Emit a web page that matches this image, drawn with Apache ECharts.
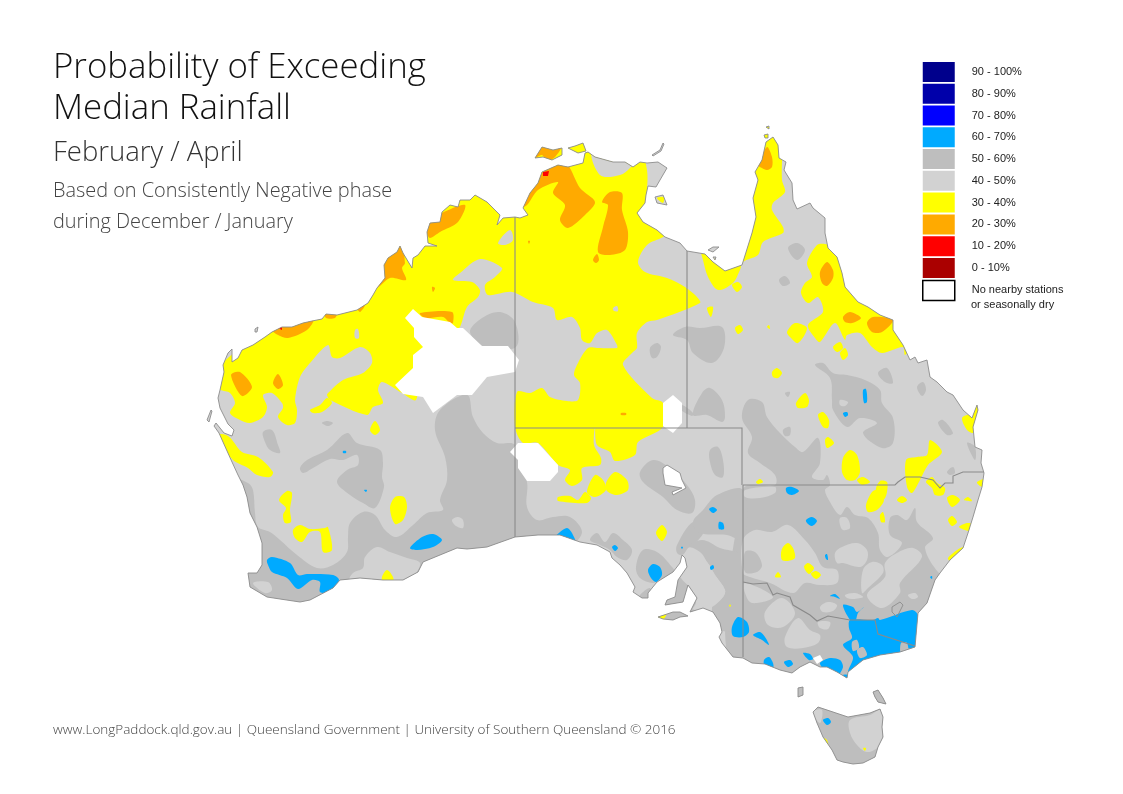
<!DOCTYPE html>
<html>
<head>
<meta charset="utf-8">
<style>html,body{margin:0;padding:0;background:#fff}#chart{width:1123px;height:794px}</style>
<script src="https://cdn.jsdelivr.net/npm/echarts@6/dist/echarts.min.js"></script>
</head>
<body>
<div id="chart"></div>
<script>
// map outlines and rainfall bands in map units (0-1123 / 0-794)
const mainland = [[515,217],[520,218],[528,215],[523,208],[530,193],[538,183],[542,172],[558,165],[568,167],[583,163],[585,153],[588,152],[595,157],[613,162],[625,162],[633,167],[640,162],[647,163],[658,162],[667,168],[660,180],[656,187],[648,186],[646,195],[645,203],[637,213],[643,222],[657,230],[665,237],[680,243],[687,251],[705,254],[713,262],[725,271],[742,265],[752,233],[756,217],[753,198],[758,180],[755,172],[762,160],[766,142],[773,137],[778,145],[779,158],[786,162],[784,170],[792,183],[793,200],[797,209],[810,203],[813,208],[825,218],[825,233],[828,248],[837,257],[842,273],[845,287],[858,302],[868,307],[880,315],[893,320],[893,330],[903,345],[910,360],[915,357],[918,363],[927,360],[930,377],[937,382],[947,392],[953,395],[963,410],[972,418],[977,405],[978,410],[973,427],[975,447],[982,450],[981,463],[984,473],[982,487],[978,500],[973,517],[968,533],[963,548],[950,560],[940,573],[935,580],[927,603],[918,613],[915,647],[900,652],[880,655],[863,660],[848,672],[847,678],[842,675],[837,672],[827,667],[820,667],[810,662],[800,667],[792,673],[780,670],[765,664],[752,663],[743,658],[733,657],[722,643],[719,637],[722,632],[720,623],[713,612],[703,608],[690,612],[697,598],[688,585],[683,602],[665,605],[667,600],[675,597],[678,580],[687,567],[685,558],[682,555],[680,563],[673,572],[657,582],[648,593],[648,598],[642,598],[633,592],[635,587],[627,573],[620,565],[612,558],[610,552],[597,545],[580,542],[560,535],[538,535],[515,537],[487,547],[467,549],[457,548],[440,555],[423,562],[418,572],[403,580],[383,580],[360,578],[340,580],[333,588],[310,600],[300,602],[280,599],[267,597],[250,587],[248,573],[257,573],[262,565],[262,543],[257,527],[250,513],[247,497],[243,485],[238,475],[232,462],[223,442],[219,433],[214,426],[216,423],[220,428],[224,433],[232,436],[234,430],[228,424],[224,416],[220,408],[218,398],[220,390],[224,372],[223,365],[228,353],[232,349],[232,362],[238,358],[242,350],[253,345],[265,337],[272,332],[282,327],[292,327],[303,323],[312,321],[322,319],[326,314],[337,315],[357,310],[368,303],[373,295],[377,288],[385,278],[384,265],[388,258],[397,252],[400,246],[403,253],[412,268],[413,258],[418,255],[425,246],[437,246],[428,243],[427,232],[430,223],[440,222],[442,212],[450,205],[458,207],[460,200],[470,200],[475,195],[487,202],[500,215],[497,225],[503,218]];
const tasmania = [[813,712],[818,707],[827,710],[848,717],[870,713],[880,709],[883,717],[882,727],[883,737],[878,747],[875,757],[863,763],[853,764],[843,762],[837,760],[832,750],[823,737],[817,723]];
const islands = [
  [[798,688],[803,687],[803,695],[798,697]],
  [[873,692],[878,690],[883,698],[886,704],[878,702],[875,697]],
  [[658,617],[673,612],[680,612],[688,616],[680,617],[673,620],[663,619]],
  [[655,197],[663,195],[667,205],[657,203]],
  [[535,158],[542,147],[553,150],[562,148],[562,155],[552,160],[543,157]],
  [[568,148],[575,146],[583,143],[586,151],[578,153]],
  [[708,250],[713,247],[719,247],[713,252]],
  [[713,257],[716,257],[715,260]],
  [[764,135],[768,134],[768,138],[765,138]],
  [[766,127],[769,126],[769,129]],
  [[207,420],[211,410],[212,411],[209,422]],
  [[255,329],[258,327],[257,332],[255,332]],
  [[652,155],[660,150],[663,143],[664,144],[661,151],[653,156]]
];

const band40Patches = [
  [[745,490],[775,487],[775,493],[760,498],[745,497]],
  [[743,540],[755,530],[772,532],[788,525],[805,540],[815,553],[823,567],[837,570],[837,583],[820,585],[805,583],[793,593],[770,583],[750,577],[743,573]],
  [[835,553],[842,547],[857,543],[867,550],[867,560],[860,567],[843,563],[837,563]],
  [[862,593],[863,570],[872,562],[882,565],[883,573],[868,588]],
  [[867,595],[885,577],[885,563],[897,553],[913,548],[922,557],[900,583],[900,593],[882,608]],
  [[845,595],[855,593],[863,597],[853,599],[847,598]],
  [[820,607],[828,602],[837,605],[833,611],[823,612]],
  [[908,595],[915,593],[918,597],[912,599]],
  [[840,518],[847,518],[850,528],[843,530],[840,525]],
  [[818,622],[830,622],[828,629],[820,628]],
  [[765,612],[782,598],[795,613],[783,627],[768,625]],
  [[745,583],[773,597],[752,603],[745,593]],
  [[785,637],[798,618],[810,630],[820,635],[818,643],[803,648],[787,647]],
  [[840,400],[848,402],[845,406],[840,405]],
  [[452,520],[458,517],[463,520],[463,528],[456,526]],
  [[365,557],[377,547],[390,552],[407,558],[420,563],[413,577],[403,582],[350,580],[353,573],[363,568]],
  [[253,583],[268,582],[272,590],[265,593]],
  [[850,720],[870,715],[881,710],[883,733],[878,747],[867,752],[857,745],[850,733]],
  [[813,712],[822,710],[820,723]],
  [[688,548],[700,552],[707,562],[715,575],[725,590],[723,597],[712,607],[700,610],[692,590],[680,575]]
];
const band50 = [
  [[467,395],[440,410],[435,430],[445,457],[447,480],[440,500],[443,510],[427,513],[413,525],[397,537],[385,530],[375,515],[363,512],[350,523],[348,537],[347,552],[333,565],[317,568],[297,555],[280,540],[270,532],[258,527],[255,513],[253,490],[248,483],[235,480],[230,540],[240,610],[300,615],[420,590],[520,550],[570,545],[582,532],[570,517],[553,517],[537,520],[527,507],[527,482],[515,445],[497,443],[483,433],[473,417]],
  [[470,332],[482,318],[500,312],[515,322],[516,347],[485,347]],
  [[300,468],[307,460],[327,450],[347,433],[357,443],[380,450],[383,463],[382,477],[384,487],[375,508],[363,503],[350,495],[337,482],[347,470],[358,465],[357,455],[343,460],[330,459],[313,468],[303,473]],
  [[263,432],[272,430],[278,445],[280,453],[270,450],[265,442]],
  [[322,423],[327,421],[333,423],[328,426]],
  [[673,335],[685,327],[700,328],[722,327],[724,348],[712,363],[693,353],[687,340]],
  [[650,348],[657,343],[661,347],[657,357],[652,358]],
  [[693,415],[702,393],[710,388],[722,400],[725,417],[722,422],[707,415]],
  [[682,405],[693,413],[692,416],[680,409]],
  [[742,418],[748,400],[762,402],[767,417],[780,433],[795,447],[803,452],[818,438],[820,463],[812,477],[823,480],[827,475],[830,485],[825,490],[830,502],[840,515],[847,507],[855,515],[868,518],[878,533],[880,550],[888,557],[902,543],[890,535],[890,518],[897,515],[907,520],[915,508],[917,522],[933,538],[925,548],[938,572],[960,590],[940,690],[743,690],[743,490],[775,485],[775,475],[760,463],[748,453],[752,437]],
  [[815,365],[823,363],[833,373],[847,375],[865,380],[880,390],[882,403],[893,418],[893,443],[882,448],[863,433],[877,423],[860,418],[847,427],[833,410],[832,400],[830,378]],
  [[878,373],[887,368],[893,383],[885,382]],
  [[917,387],[923,382],[926,390],[922,396]],
  [[938,423],[943,420],[953,433],[947,435]],
  [[947,472],[953,467],[955,473],[950,475]],
  [[967,443],[975,447],[975,460]],
  [[785,393],[790,392],[788,397]],
  [[783,430],[790,427],[790,435],[785,436]],
  [[710,450],[718,447],[723,460],[723,477],[715,475],[710,462]],
  [[788,248],[797,243],[805,250],[797,260]],
  [[779,280],[785,276],[790,283],[783,286]],
  [[640,472],[653,460],[670,468],[687,485],[695,500],[692,513],[677,510],[663,497],[643,482]],
  [[590,540],[597,533],[605,542],[613,533],[623,540],[632,550],[627,560],[617,557],[610,550],[600,545]],
  [[636,567],[643,550],[657,552],[672,567],[675,573],[660,580],[653,583],[640,578]],
  [[677,545],[693,522],[703,532],[700,538],[688,550],[682,555],[677,553]],
  [[703,510],[717,495],[743,490],[744,540],[727,535],[700,533],[693,522]],
  [[702,540],[720,548],[743,557],[745,625],[720,630],[712,607],[723,597],[725,590],[715,575],[707,562],[688,548]],
  [[678,580],[688,577],[695,590],[698,598],[688,612],[665,605],[665,600],[675,597]],
  [[810,770],[890,770],[890,700],[810,700]],
  [[640,595],[650,588],[650,600],[640,600]],
  [[795,680],[890,680],[890,710],[795,700]],
  [[655,610],[695,610],[695,622],[655,622]]
];
const band50Patches = [
  [[745,552],[755,552],[762,565],[757,572],[745,572]]
];
const band30 = [
  [[215,388],[220,390],[230,393],[235,403],[230,413],[240,420],[250,423],[263,417],[267,407],[263,395],[272,393],[282,403],[283,408],[278,417],[287,425],[295,423],[297,410],[295,400],[300,377],[310,363],[328,345],[332,357],[340,358],[360,347],[370,353],[372,363],[363,373],[343,380],[328,393],[327,395],[330,400],[367,415],[373,407],[383,403],[378,390],[382,382],[402,393],[416,400],[420,370],[455,330],[460,327],[467,307],[478,297],[480,290],[472,282],[453,280],[460,273],[480,259],[502,268],[495,277],[485,285],[488,295],[512,292],[533,302],[553,308],[557,320],[572,317],[580,328],[582,340],[590,343],[597,333],[607,330],[617,345],[617,348],[597,348],[588,348],[578,363],[574,375],[580,383],[578,400],[567,401],[550,397],[542,388],[530,393],[517,392],[515,427],[523,443],[538,443],[558,465],[570,470],[565,480],[572,486],[582,480],[582,468],[600,465],[601,458],[594,445],[595,428],[597,445],[610,452],[615,461],[635,455],[638,442],[663,427],[663,403],[652,398],[623,365],[632,353],[637,348],[637,333],[647,322],[657,320],[700,303],[697,297],[685,287],[667,278],[645,272],[638,262],[647,245],[663,237],[680,225],[655,225],[645,210],[647,190],[647,170],[640,150],[600,140],[530,135],[500,190],[470,185],[400,230],[350,295],[300,305],[215,370]],
  [[703,260],[708,277],[718,290],[733,283],[740,270],[743,262],[758,255],[763,242],[783,233],[783,227],[772,210],[773,203],[785,192],[782,180],[780,130],[760,130],[745,200],[745,255],[720,262],[700,245]],
  [[732,285],[738,282],[742,287],[737,292]],
  [[807,263],[817,245],[825,244],[845,250],[870,300],[915,340],[905,355],[903,347],[882,353],[872,347],[860,333],[847,335],[845,340],[835,323],[820,342],[815,338],[808,325],[823,312],[818,297],[808,303],[801,293],[805,283],[812,277]],
  [[787,332],[795,323],[807,328],[798,343],[790,337]],
  [[833,347],[840,342],[843,348],[837,352]],
  [[840,353],[845,348],[848,355],[843,360]],
  [[735,328],[740,325],[743,330],[738,334]],
  [[707,308],[713,307],[711,317]],
  [[767,327],[769,325],[770,329]],
  [[772,372],[777,368],[782,373],[778,378],[773,377]],
  [[796,403],[805,393],[809,400],[807,407],[798,408]],
  [[818,415],[823,412],[829,420],[828,428],[823,427]],
  [[825,440],[828,437],[834,443],[827,448]],
  [[843,458],[850,450],[857,455],[860,472],[855,480],[847,480],[842,472]],
  [[857,480],[863,477],[870,482],[862,485]],
  [[756,482],[760,479],[763,482],[758,484]],
  [[906,460],[917,457],[927,455],[930,440],[942,452],[928,465],[920,480],[912,493],[907,487]],
  [[926,482],[932,477],[937,483],[945,488],[943,495],[935,495],[932,488]],
  [[947,498],[953,495],[960,500],[952,507]],
  [[964,500],[968,497],[972,501]],
  [[977,482],[990,478],[990,488],[980,486]],
  [[948,520],[952,516],[957,522],[952,526]],
  [[959,527],[967,523],[972,524],[970,531]],
  [[948,558],[963,547],[975,550],[952,562]],
  [[962,418],[970,415],[975,427],[973,433],[967,430]],
  [[972,423],[976,403],[980,408],[975,425]],
  [[866,505],[872,492],[877,490],[884,500],[877,510],[868,512]],
  [[876,490],[880,481],[887,482],[887,492],[884,499]],
  [[880,515],[883,512],[885,522],[881,522]],
  [[897,500],[902,496],[907,500],[902,503]],
  [[781,553],[783,547],[788,543],[793,548],[795,558],[788,561],[782,560]],
  [[804,567],[808,563],[814,568],[809,574]],
  [[811,574],[816,571],[821,575],[816,579]],
  [[775,577],[778,572],[781,577]],
  [[587,492],[595,475],[603,480],[606,490],[595,497]],
  [[606,483],[615,472],[627,480],[628,490],[617,495],[607,491]],
  [[558,497],[570,496],[578,500],[585,492],[591,498],[587,503],[558,501]],
  [[656,533],[662,525],[667,532],[662,541]],
  [[657,615],[667,612],[662,621]],
  [[729,605],[731,605],[730,607]],
  [[215,435],[228,436],[242,452],[258,457],[273,472],[270,477],[257,475],[248,468],[233,460]],
  [[279,500],[287,491],[292,493],[290,510],[291,522],[285,523],[283,515],[286,508]],
  [[293,530],[300,525],[310,529],[325,528],[328,527],[332,550],[323,552],[320,532],[310,532],[302,542],[295,538]],
  [[390,508],[395,497],[404,497],[407,507],[403,520],[395,524]],
  [[370,430],[375,421],[380,430],[375,435]],
  [[382,577],[387,570],[393,577],[393,585],[383,585]],
  [[310,410],[320,405],[327,398],[332,403],[322,412],[313,413]],
  [[657,198],[664,197],[663,203]],
  [[823,738],[827,740],[829,750],[825,745]],
  [[863,748],[866,748],[865,751]]
];
// grey pockets lying inside the yellow area
const band40OnYellow = [
  [[593,150],[640,155],[630,168],[620,175],[600,175]],
  [[355,330],[358,329],[359,338],[355,338]],
  [[498,243],[510,230],[513,240],[505,245]],
  [[613,308],[617,306],[618,311],[614,311]]
];
const band20 = [
  [[427,233],[430,222],[442,213],[465,205],[458,222],[440,232],[430,238]],
  [[412,245],[423,243],[423,247],[417,255],[412,253]],
  [[377,288],[390,278],[406,280],[402,268],[405,263],[400,240],[375,260],[365,290]],
  [[420,313],[452,312],[453,323],[450,323],[443,317],[425,318]],
  [[325,312],[337,312],[335,318],[326,318]],
  [[357,307],[365,305],[360,312]],
  [[272,330],[282,325],[313,320],[307,330],[288,338],[278,335]],
  [[231,375],[240,372],[252,387],[242,396]],
  [[273,383],[278,374],[283,385],[278,389]],
  [[432,287],[435,288],[433,292]],
  [[535,158],[542,145],[553,150],[562,146],[555,157],[547,161],[542,155]],
  [[520,208],[530,190],[538,180],[542,165],[558,160],[568,165],[580,188],[595,202],[585,215],[568,228],[560,220],[565,205],[553,193],[558,182],[538,190],[527,205]],
  [[602,202],[610,192],[622,193],[622,210],[628,232],[625,250],[610,255],[598,252],[603,227],[608,205]],
  [[593,260],[597,254],[599,260],[596,263]],
  [[528,241],[530,241],[529,244]],
  [[621,413],[626,413],[626,415],[621,415]],
  [[758,165],[767,147],[772,157],[772,167],[767,170],[762,168]],
  [[820,272],[827,262],[833,270],[833,278],[827,286],[822,283]],
  [[843,317],[850,312],[861,318],[852,323],[845,322]],
  [[867,323],[873,317],[893,320],[882,332],[872,332]]
];
const band10 = [
  [[278,328],[282,325],[282,330]],
  [[543,172],[549,171],[548,176],[543,176]]
];
const band60 = [
  [[786,488],[792,487],[799,491],[792,495],[787,493]],
  [[806,520],[812,517],[817,521],[812,526],[807,523]],
  [[825,555],[827,554],[828,560],[826,559]],
  [[830,596],[835,594],[840,599],[835,597]],
  [[930,577],[932,576],[932,579]],
  [[753,635],[760,632],[765,637],[769,645],[762,640]],
  [[732,627],[738,617],[747,622],[749,632],[743,637],[733,636]],
  [[850,620],[873,620],[878,618],[880,620],[912,610],[918,615],[920,633],[920,650],[903,648],[900,658],[880,660],[863,665],[852,675],[848,672],[853,657],[843,645],[852,638],[849,628]],
  [[843,605],[853,607],[857,612],[864,607],[858,613],[855,622],[850,620]],
  [[803,653],[810,654],[813,659],[809,660]],
  [[820,663],[830,658],[840,660],[843,667],[838,675],[833,670],[825,670]],
  [[764,660],[769,657],[773,663],[773,668],[765,668]],
  [[784,662],[790,660],[793,664],[788,667]],
  [[843,675],[848,675],[846,680]],
  [[823,720],[828,718],[831,722],[827,725]],
  [[648,570],[653,564],[660,567],[662,575],[656,582],[651,578]],
  [[612,547],[615,545],[618,548],[615,551]],
  [[560,532],[567,528],[572,533],[576,545],[555,538]],
  [[709,509],[713,507],[717,510],[713,513]],
  [[719,522],[723,523],[724,529],[719,529]],
  [[710,567],[713,565],[714,568],[711,570]],
  [[681,547],[683,547],[682,549]],
  [[863,390],[866,389],[867,402],[864,403]],
  [[843,413],[847,412],[848,415],[845,417]],
  [[343,451],[346,451],[346,453],[343,453]],
  [[364,490],[367,490],[366,492]],
  [[410,548],[422,537],[433,534],[442,540],[433,547],[417,550]],
  [[267,560],[272,557],[290,563],[298,575],[307,574],[333,575],[339,580],[330,592],[320,592],[320,582],[312,580],[298,589],[287,578],[272,572],[268,565]]
];
const band50OnBlue = [
  [[852,642],[857,640],[859,648],[853,651]],
  [[857,650],[863,647],[867,655],[860,658]],
  [[901,643],[907,643],[908,655],[901,655]]
];
const noData = [
  [[405,318],[413,309],[422,317],[450,322],[457,328],[463,328],[482,346],[508,346],[519,360],[515,372],[487,377],[472,395],[457,395],[433,413],[423,397],[403,394],[395,385],[413,368],[413,355],[423,347],[414,337],[414,328]],
  [[510,452],[518,443],[538,443],[558,465],[558,472],[550,481],[527,481],[518,468],[518,460]],
  [[663,403],[673,395],[682,403],[682,423],[673,433],[663,426]],
  [[663,468],[667,465],[680,473],[682,480],[686,488],[673,495],[672,492],[682,488],[665,485],[663,473]],
  [[813,658],[820,655],[823,660],[817,664]]
];

// state borders, lake shores
const borders = [
  [[515,217],[515,537]],
  [[515,428],[742,428],[742,485]],
  [[687,251],[687,428]],
  [[743,485],[743,657]],
  [[743,485],[895,485],[898,482],[905,477],[920,477],[933,480],[940,488],[945,483],[953,483],[953,476],[963,472],[984,472]],
  [[743,582],[753,584],[767,583],[773,595],[777,593],[790,597],[793,605],[810,615],[817,621],[828,616],[850,620],[875,620],[878,634],[915,646]]
];
const lakes = [
  [[663,468],[667,465],[680,473],[682,480],[686,488],[673,495],[672,492],[682,488],[665,485],[663,473],[663,468]],
  [[892,607],[900,602],[903,605],[897,617],[892,612],[892,607]]
];

const legendNames = ['90 - 100%','80 - 90%','70 - 80%','60 - 70%','50 - 60%','40 - 50%','30 - 40%','20 - 30%','10 - 20%','0 - 10%','No nearby stations'];
const legendColors = ['#00008c','#0000aa','#0000ff','#00aaff','#bebebe','#d2d2d2','#ffff00','#ffaa00','#ff0000','#aa0000','#ffffff'];

const myChart = echarts.init(document.getElementById('chart'));

function landPath(api) {
  return [mainland, tasmania].concat(islands).map(function (poly) {
    return 'M' + poly.map(function (p) {
      const c = api.coord(p);
      return c[0].toFixed(1) + ' ' + c[1].toFixed(1);
    }).join('L') + 'Z';
  }).join('');
}

function polySeries(name, polys, z, smooth, clipped) {
  const idx = legendNames.indexOf(name);
  return {
    name: name,
    type: 'custom',
    coordinateSystem: 'cartesian2d',
    z: z,
    silent: true,
    clip: false,
    itemStyle: { color: legendColors[idx] },
    data: polys.map(function (_, i) { return [i, 0]; }),
    renderItem: function (params, api) {
      const poly = polys[api.value(0)];
      const el = {
        type: 'polygon',
        shape: { points: poly.map(function (p) { return api.coord(p); }), smooth: smooth },
        style: { fill: legendColors[idx], stroke: null }
      };
      if (clipped) {
        el.clipPath = { type: 'path', shape: { pathData: landPath(api) } };
      }
      return el;
    }
  };
}

function lineSeries(name, lines, z, color, width) {
  return {
    name: name,
    type: 'custom',
    coordinateSystem: 'cartesian2d',
    z: z,
    silent: true,
    clip: false,
    data: lines.map(function (_, i) { return [i, 0]; }),
    renderItem: function (params, api) {
      return {
        type: 'polyline',
        shape: { points: lines[api.value(0)].map(function (p) { return api.coord(p); }) },
        style: { fill: null, stroke: color, lineWidth: width }
      };
    }
  };
}

const land = [mainland, tasmania].concat(islands);
const closedLand = land.map(function (poly) { return poly.concat([poly[0]]); });

const series = [
  polySeries('90 - 100%', [], 1, 0, false),
  polySeries('80 - 90%', [], 1, 0, false),
  polySeries('70 - 80%', [], 1, 0, false),
  polySeries('40 - 50%', land, 2, 0, false),
  polySeries('50 - 60%', band50, 3, 0.35, true),
  polySeries('40 - 50%', band40Patches, 4, 0.35, true),
  polySeries('50 - 60%', band50Patches, 5, 0.35, true),
  polySeries('30 - 40%', band30, 6, 0.3, true),
  polySeries('40 - 50%', band40OnYellow, 7, 0.35, true),
  polySeries('20 - 30%', band20, 8, 0.3, true),
  polySeries('60 - 70%', band60, 8, 0.3, true),
  polySeries('50 - 60%', band50OnBlue, 9, 0.3, true),
  polySeries('10 - 20%', band10, 9, 0, true),
  polySeries('0 - 10%', [], 9, 0, true),
  polySeries('No nearby stations', noData, 10, 0, false),
  lineSeries('borders', borders, 11, '#8a8a8a', 1.1),
  lineSeries('coast', closedLand.concat(lakes), 12, '#8c8c8c', 0.9)
];

const option = {
  animation: false,
  backgroundColor: '#ffffff',
  grid: { left: 0, right: 0, top: 0, bottom: 0 },
  xAxis: { type: 'value', min: 0, max: 1123, show: false },
  yAxis: { type: 'value', min: 0, max: 794, inverse: true, show: false },
  title: [
    { text: 'Probability of Exceeding', left: 53, top: 51, padding: 0, textStyle: { fontFamily: 'Open Sans', fontWeight: 300, fontSize: 34.8, color: '#111' } },
    { text: 'Median Rainfall', left: 53, top: 92, padding: 0, textStyle: { fontFamily: 'Open Sans', fontWeight: 300, fontSize: 34.8, color: '#111' } },
    { text: 'February / April', left: 53, top: 139, padding: 0, textStyle: { fontFamily: 'Open Sans', fontWeight: 300, fontSize: 27.5, color: '#333' } },
    { text: 'Based on Consistently Negative phase', left: 53, top: 181, padding: 0, textStyle: { fontFamily: 'Open Sans', fontWeight: 300, fontSize: 19.9, color: '#444' } },
    { text: 'during December / January', left: 53, top: 212, padding: 0, textStyle: { fontFamily: 'Open Sans', fontWeight: 300, fontSize: 19.9, color: '#444' } },
    { text: 'www.LongPaddock.qld.gov.au | Queensland Government | University of Southern Queensland © 2016', left: 53, top: 723, padding: 0, textStyle: { fontFamily: 'Open Sans', fontWeight: 300, fontSize: 13.5, color: '#444' } },
    { text: 'or seasonally dry', left: 971, top: 299, padding: 0, textStyle: { fontFamily: 'Liberation Sans', fontWeight: 'normal', fontSize: 11, color: '#222' } }
  ],
  legend: {
    orient: 'vertical',
    left: 922,
    top: 62,
    padding: 0,
    itemWidth: 32,
    itemHeight: 20,
    itemGap: 1.77,
    selectedMode: false,
    icon: 'rect',
    textStyle: { fontFamily: 'Liberation Sans', fontSize: 11, color: '#222', padding: [2, 0, 0, 12] },
    data: legendNames.map(function (name) {
      if (name === 'No nearby stations') {
        return { name: name, itemStyle: { color: '#ffffff', borderColor: '#000000', borderWidth: 1.5 } };
      }
      return { name: name };
    })
  },
  series: series
};

myChart.setOption(option);
</script>
</body>
</html>
